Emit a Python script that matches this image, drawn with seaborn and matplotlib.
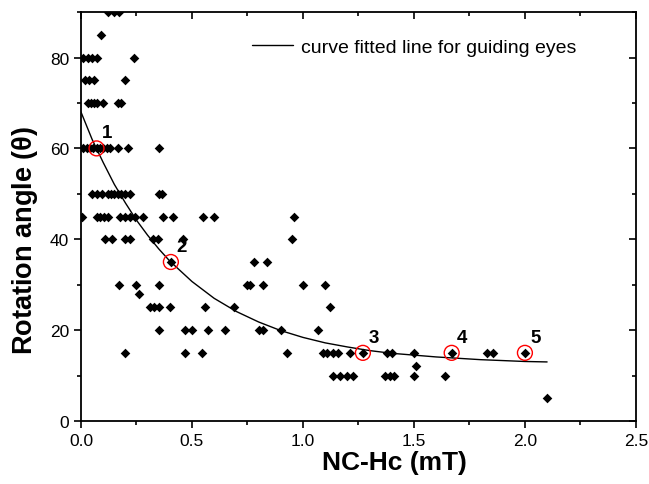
import matplotlib
matplotlib.use("Agg")
import matplotlib.pyplot as plt
import seaborn as sns
import pandas as pd
from matplotlib.ticker import MultipleLocator

sns.set_style("ticks")
plt.rcParams['font.family'] = ['Liberation Sans', 'DejaVu Sans']
plt.rcParams['text.color'] = 'black'
plt.rcParams['axes.labelcolor'] = 'black'
plt.rcParams['xtick.color'] = 'black'
plt.rcParams['ytick.color'] = 'black'

# Scatter data (NC-Hc in mT, rotation angle in degrees), read row by row
x_pts = [0.12, 0.15, 0.17,
         0.09,
         0.01, 0.03, 0.05, 0.07, 0.24,
         0.02, 0.035, 0.06, 0.20,
         0.03, 0.045, 0.06, 0.07, 0.10, 0.165, 0.18,
         0.01, 0.025, 0.04, 0.055, 0.07, 0.085, 0.10, 0.115, 0.13, 0.165, 0.21, 0.35,
         0.05, 0.07, 0.095, 0.12, 0.135, 0.15, 0.165, 0.18, 0.20, 0.22, 0.35, 0.365,
         0.005, 0.07, 0.085, 0.105, 0.12, 0.175, 0.20, 0.22, 0.245, 0.28, 0.37, 0.415, 0.55, 0.60, 0.96,
         0.11, 0.14, 0.20, 0.22, 0.325, 0.345, 0.46, 0.95,
         0.405, 0.78, 0.84,
         0.17, 0.25, 0.35, 0.75, 0.76, 0.82, 1.00, 1.10,
         0.26,
         0.31, 0.33, 0.35, 0.40, 0.56, 0.69, 1.12,
         0.35, 0.47, 0.50, 0.57, 0.65, 0.80, 0.82, 0.90, 1.07,
         0.20, 0.47, 0.545, 0.93, 1.09, 1.11, 1.135, 1.16, 1.21, 1.27, 1.38, 1.40, 1.50, 1.67, 1.83, 1.855, 2.00,
         1.51,
         1.135, 1.165, 1.20, 1.225, 1.37, 1.39, 1.41, 1.50, 1.64,
         2.10]
y_pts = [90, 90, 90,
         85,
         80, 80, 80, 80, 80,
         75, 75, 75, 75,
         70, 70, 70, 70, 70, 70, 70,
         60, 60, 60, 60, 60, 60, 60, 60, 60, 60, 60, 60,
         50, 50, 50, 50, 50, 50, 50, 50, 50, 50, 50, 50,
         45, 45, 45, 45, 45, 45, 45, 45, 45, 45, 45, 45, 45, 45, 45,
         40, 40, 40, 40, 40, 40, 40, 40,
         35, 35, 35,
         30, 30, 30, 30, 30, 30, 30, 30,
         28,
         25, 25, 25, 25, 25, 25, 25,
         20, 20, 20, 20, 20, 20, 20, 20, 20,
         15, 15, 15, 15, 15, 15, 15, 15, 15, 15, 15, 15, 15, 15, 15, 15, 15,
         12,
         10, 10, 10, 10, 10, 10, 10, 10, 10,
         5]

# Curve fitted line
curve_x = [0.0, 0.05, 0.1, 0.15, 0.2, 0.25, 0.3, 0.35, 0.4, 0.5, 0.6, 0.7, 0.8, 0.9, 1.0,
           1.1, 1.2, 1.3, 1.4, 1.5, 1.6, 1.7, 1.8, 1.9, 2.0, 2.1]
curve_y = [68.0, 62.0, 56.9, 52.1, 48.0, 44.2, 40.9, 37.9, 35.2, 30.7, 27.0, 24.1, 21.8, 19.9, 18.4,
           17.2, 16.3, 15.5, 14.9, 14.5, 14.1, 13.8, 13.5, 13.3, 13.1, 13.0]

# Highlighted points
hl_x = [0.07, 0.405, 1.27, 1.67, 2.00]
hl_y = [60, 35, 15, 15, 15]
hl_labels = ["1", "2", "3", "4", "5"]

df_pts = pd.DataFrame({"x": x_pts, "y": y_pts})
df_curve = pd.DataFrame({"x": curve_x, "y": curve_y})
df_hl = pd.DataFrame({"x": hl_x, "y": hl_y})

fig = plt.figure(figsize=(6.49, 4.85), dpi=100)
ax = fig.add_axes([0.1248, 0.1299, 0.855, 0.8431])

sns.lineplot(data=df_curve, x="x", y="y", ax=ax, color="black", linewidth=1.0,
             label="curve fitted line for guiding eyes", zorder=2)
sns.scatterplot(data=df_pts, x="x", y="y", ax=ax, marker="D", s=24, color="black",
                edgecolor="black", linewidth=0, zorder=3, legend=False)
sns.scatterplot(data=df_hl, x="x", y="y", ax=ax, marker="o", s=115, facecolor="none",
                edgecolor="red", linewidth=1.0, zorder=4, legend=False)

for xx, yy, lab in zip(hl_x, hl_y, hl_labels):
    ax.annotate(lab, (xx, yy), xytext=(4, 5), textcoords="offset points",
                fontsize=13.5, fontweight="bold", ha="left", va="bottom", color="black")

ax.set_xlim(0, 2.5)
ax.set_ylim(0, 90)
ax.xaxis.set_major_locator(MultipleLocator(0.5))
ax.xaxis.set_minor_locator(MultipleLocator(0.25))
ax.yaxis.set_major_locator(MultipleLocator(20))
ax.yaxis.set_minor_locator(MultipleLocator(10))
ax.xaxis.set_major_formatter(matplotlib.ticker.FormatStrFormatter('%.1f'))

for sp in ax.spines.values():
    sp.set_visible(True)
    sp.set_linewidth(1.3)
    sp.set_color("black")

ax.tick_params(axis="both", which="major", length=5, width=1.2, labelsize=12.5,
               direction="out", colors="black")
ax.tick_params(axis="both", which="minor", length=3, width=1.2, direction="out")
ax.tick_params(top=True, right=True, which="both")
# top/right mirror ticks point inward
for t in ax.xaxis.get_major_ticks() + ax.xaxis.get_minor_ticks():
    t.tick2line.set_marker(matplotlib.lines.TICKDOWN)
for t in ax.yaxis.get_major_ticks() + ax.yaxis.get_minor_ticks():
    t.tick2line.set_marker(matplotlib.lines.TICKLEFT)

ax.set_xlabel("NC-Hc (mT)", fontsize=19, fontweight="bold", color="black")
ax.xaxis.set_label_coords(0.564, -0.072)
ax.set_ylabel(r"Rotation angle $\mathregular{(\theta)}$", fontsize=19.5, fontweight="bold", color="black")
ax.yaxis.set_label_coords(-0.074, 0.445)

leg = ax.legend(loc="upper left", frameon=False, fontsize=14, handlelength=2.1,
                handletextpad=0.45, borderpad=0, borderaxespad=0,
                bbox_to_anchor=(0.308, 0.935))
for txt in leg.get_texts():
    txt.set_color("black")

fig.savefig("out.png", dpi=100)
